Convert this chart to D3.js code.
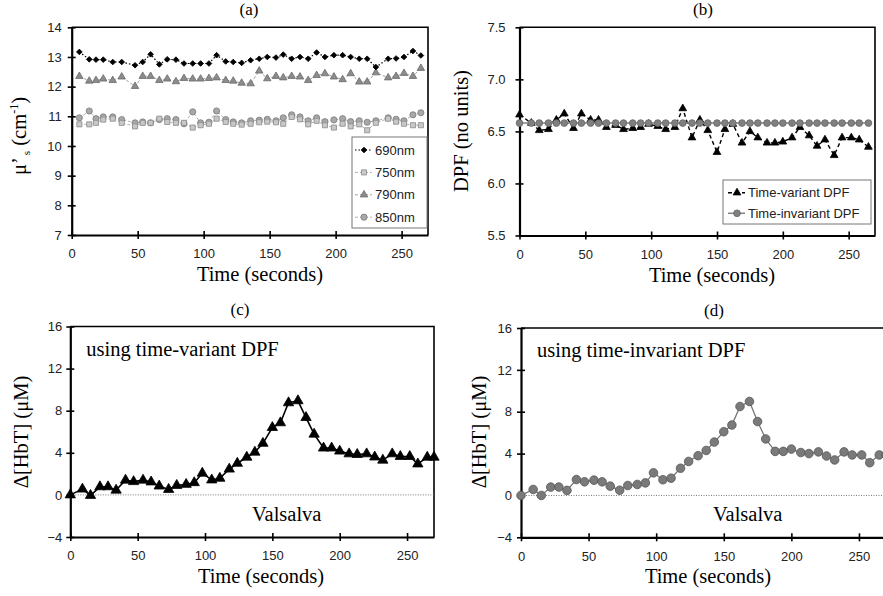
<!DOCTYPE html>
<html>
<head>
<meta charset="utf-8">
<script src="https://cdn.jsdelivr.net/npm/d3@7"></script>
<style>
body { margin: 0; background: #fff; }
</style>
</head>
<body>
<div id="chart"></div>
<script>
// panel (a): reduced scattering coefficient per wavelength
var timeA = [5.8, 13.3, 18.4, 23.9, 31.1, 37.9, 48, 53.8, 59.8, 66.4, 72.4, 79, 85.1, 91.7, 97.7, 104, 109.8, 116.7, 122.4, 128.8,
	135.6, 142.1, 148.2, 154.8, 160.3, 166.7, 173, 179.2, 185.6, 191.9, 198.7, 205.3, 211.4, 217.9, 223.9, 230.5, 239.8, 245.8, 251.8, 258.6, 264.6];
var mu690 = [13.17, 12.92, 12.91, 12.91, 12.83, 12.83, 12.72, 12.83, 13.09, 12.75, 12.92, 12.91, 12.78, 12.78, 12.78, 12.78, 13.06, 12.85, 12.83, 12.8,
	12.89, 12.94, 13.0, 12.98, 13.08, 12.94, 13.0, 12.94, 13.15, 13.0, 13.06, 13.06, 13.0, 12.94, 12.94, 12.66, 12.94, 12.95, 13.0, 13.2, 13.05];
var mu750 = [10.73, 10.73, 10.78, 10.89, 10.92, 10.78, 10.66, 10.78, 10.78, 10.92, 10.81, 10.78, 10.78, 10.62, 10.7, 10.75, 10.92, 10.81, 10.75, 10.72,
	10.75, 10.8, 10.82, 10.8, 10.75, 10.98, 10.9, 10.73, 10.85, 10.7, 10.62, 10.75, 10.66, 10.73, 10.53, 10.78, 10.92, 10.82, 10.75, 10.7, 10.7];
var mu790 = [12.35, 12.19, 12.21, 12.26, 12.21, 12.33, 12.01, 12.35, 12.35, 12.21, 12.26, 12.17, 12.28, 12.26, 12.26, 12.28, 12.3, 12.21, 12.19, 12.12,
	12.1, 12.53, 12.27, 12.35, 12.3, 12.35, 12.33, 12.21, 12.38, 12.44, 12.33, 12.24, 12.44, 12.16, 12.16, 12.47, 12.3, 12.35, 12.45, 12.35, 12.62];
var mu850 = [10.95, 11.18, 10.92, 10.98, 10.98, 10.89, 10.78, 10.81, 10.78, 10.89, 10.92, 10.89, 10.75, 11.15, 10.78, 10.8, 11.18, 10.89, 10.81, 10.78,
	10.85, 10.87, 10.9, 10.85, 10.95, 11.05, 10.98, 10.85, 10.95, 10.82, 10.88, 10.92, 10.82, 10.85, 10.8, 10.85, 10.95, 10.9, 10.85, 11.05, 11.12];

// panels (b)-(d) share the sampling times
var time = [0, 9, 15, 22, 28, 34, 41, 47, 54, 60, 66, 73, 79, 86, 92, 98, 105, 111, 118, 124,
	131, 137, 143, 150, 156, 162, 169, 175, 181, 188, 194, 200, 207, 213, 220, 226, 232, 239, 245, 252, 258, 265, 270];
var dpfVariant = [6.66, 6.58, 6.51, 6.52, 6.61, 6.67, 6.53, 6.67, 6.61, 6.61, 6.54, 6.56, 6.52, 6.53, 6.54, 6.57, 6.55, 6.52, 6.54, 6.72,
	6.44, 6.61, 6.51, 6.3, 6.52, 6.57, 6.39, 6.5, 6.44, 6.39, 6.39, 6.4, 6.44, 6.54, 6.46, 6.36, 6.42, 6.27, 6.44, 6.44, 6.42, 6.35];
var dpfInvariant = [6.58, 6.58, 6.58, 6.58, 6.58, 6.58, 6.58, 6.58, 6.58, 6.58, 6.58, 6.58, 6.58, 6.58, 6.58, 6.58, 6.58, 6.58, 6.58, 6.58,
	6.58, 6.58, 6.58, 6.58, 6.58, 6.58, 6.58, 6.58, 6.58, 6.58, 6.58, 6.58, 6.58, 6.58, 6.58, 6.58, 6.58, 6.58, 6.58, 6.58, 6.58, 6.58];
var hbtVariant = [0, 0.55, -0.05, 0.77, 0.77, 0.45, 1.4, 1.26, 1.4, 1.23, 0.84, 0.52, 0.9, 1.0, 1.16, 2.06, 1.42, 1.58, 2.45, 3.0,
	3.58, 4.06, 4.9, 6.4, 6.85, 8.75, 8.94, 7.35, 5.77, 4.45, 4.45, 4.16, 3.9, 3.84, 3.9, 3.6, 3.3, 3.9, 3.65, 3.65, 2.94, 3.58, 3.58];
var hbtInvariant = [0, 0.57, 0, 0.8, 0.8, 0.48, 1.52, 1.3, 1.46, 1.3, 0.89, 0.5, 0.95, 1.05, 1.2, 2.16, 1.5, 1.65, 2.6, 3.25,
	3.8, 4.3, 5.1, 6.09, 6.73, 8.5, 8.98, 7.06, 5.4, 4.21, 4.21, 4.43, 4.1, 4.0, 4.16, 3.77, 3.39, 4.16, 3.87, 3.87, 3.13, 3.87, 3.9];

var timeTicks = [0, 50, 100, 150, 200, 250];
var muTicks = [7, 8, 9, 10, 11, 12, 13, 14];
var dpfTicks = [5.5, 6.0, 6.5, 7.0, 7.5];
var hbtTicks = [-4, 0, 4, 8, 12, 16];
var muLabels = ["690nm", "750nm", "790nm", "850nm"];
var dpfLabels = ["Time-variant DPF", "Time-invariant DPF"];

var SANS = "'Liberation Sans', Arial, sans-serif";
var SERIF = "'Liberation Serif', 'Times New Roman', serif";

var svg = d3.select("#chart").append("svg")
	.attr("width", 883)
	.attr("height", 596);

function makePanel(o) {
	var x = d3.scaleLinear().domain([0, 270]).range([o.x0, o.x1]);
	var y = d3.scaleLinear().domain(o.yDomain).range([o.y1, o.y0]);
	var g = svg.append("g");

	// top and right frame
	g.append("path")
		.attr("d", "M" + o.x0 + "," + o.y0 + "H" + o.x1 + "V" + o.y1)
		.attr("fill", "none").attr("stroke", "#000").attr("stroke-width", 1.6);

	var ax = g.append("g")
		.attr("transform", "translate(0," + o.y1 + ")")
		.call(d3.axisBottom(x).tickValues(timeTicks).tickSize(4).tickSizeOuter(0).tickPadding(10));
	ax.selectAll(".tick line").attr("y1", -4).attr("y2", 4).attr("stroke-width", 1.6);

	var ay = g.append("g")
		.attr("transform", "translate(" + o.x0 + ",0)")
		.call(d3.axisLeft(y).tickValues(o.yTicks).tickFormat(o.yFormat).tickSize(4).tickSizeOuter(0).tickPadding(o.yPad));
	ay.selectAll(".tick line").attr("x1", 4).attr("x2", -4).attr("stroke-width", 1.6);

	[ax, ay].forEach(function(a) {
		a.select(".domain").attr("stroke-width", 2.2);
		a.selectAll("text").attr("font-family", SANS).attr("font-size", 13).attr("fill", "#222");
	});

	g.append("text")
		.attr("x", o.titleX).attr("y", o.y0 - 12)
		.attr("text-anchor", "middle")
		.attr("font-family", SERIF).attr("font-size", 17)
		.text(o.title);

	g.append("text")
		.attr("x", o.xTitleX).attr("y", o.y1 + 46)
		.attr("text-anchor", "middle")
		.attr("font-family", SERIF).attr("font-size", 20.5)
		.text("Time (seconds)");

	return {x: x, y: y, g: g};
}

function drawSeries(p, xs, ys, st) {
	var pts = d3.zip(xs, ys);
	var line = d3.line().x(d => p.x(d[0])).y(d => p.y(d[1]));
	p.g.append("path")
		.datum(pts)
		.attr("d", line)
		.attr("fill", "none")
		.attr("stroke", st.line)
		.attr("stroke-width", st.lw)
		.attr("stroke-dasharray", st.dash || null);
	var sym = d3.symbol().type(st.shape).size(st.size);
	p.g.append("g").selectAll("path")
		.data(pts)
		.join("path")
		.attr("d", sym)
		.attr("transform", d => "translate(" + p.x(d[0]) + "," + p.y(d[1]) + ")" + (st.rot ? " rotate(45)" : ""))
		.attr("fill", st.fill)
		.attr("stroke", st.stroke)
		.attr("stroke-width", 0.8);
}

function legendItem(g, x, y, st, label) {
	g.append("line")
		.attr("x1", x).attr("x2", x + 17).attr("y1", y).attr("y2", y)
		.attr("stroke", st.line).attr("stroke-width", st.lw)
		.attr("stroke-dasharray", st.dash || null);
	g.append("path")
		.attr("d", d3.symbol().type(st.shape).size(st.size)())
		.attr("transform", "translate(" + (x + 9) + "," + y + ")" + (st.rot ? " rotate(45)" : ""))
		.attr("fill", st.fill).attr("stroke", st.stroke).attr("stroke-width", 0.8);
	g.append("text")
		.attr("x", x + 20).attr("y", y + 4.5)
		.attr("font-family", SANS).attr("font-size", 13).attr("fill", "#222")
		.text(label);
}

// ---------- (a) ----------
var pa = makePanel({x0: 71.7, x1: 428, y0: 27.3, y1: 235, yDomain: [7, 14], yTicks: muTicks,
	yFormat: d3.format("d"), yPad: 6, title: "(a)", titleX: 249, xTitleX: 260});
var stA = [
	{shape: d3.symbolSquare, size: 16, rot: true, fill: "#000", stroke: "#000", line: "#000", lw: 1.2, dash: "1.5,2"},
	{shape: d3.symbolSquare, size: 26, fill: "#c8c8c8", stroke: "#8a8a8a", line: "#b0b0b0", lw: 1, dash: "3,2"},
	{shape: d3.symbolTriangle, size: 24, fill: "#8c8c8c", stroke: "#6a6a6a", line: "#a0a0a0", lw: 1, dash: "3,2"},
	{shape: d3.symbolCircle, size: 30, fill: "#a8a8a8", stroke: "#7a7a7a", line: "#b0b0b0", lw: 1, dash: "3,2"}
];
drawSeries(pa, timeA, mu850, stA[3]);
drawSeries(pa, timeA, mu750, stA[1]);
drawSeries(pa, timeA, mu790, stA[2]);
drawSeries(pa, timeA, mu690, stA[0]);

pa.g.append("rect")
	.attr("x", 352).attr("y", 137).attr("width", 75).attr("height", 91)
	.attr("fill", "#fff").attr("stroke", "#777").attr("stroke-width", 1);
muLabels.forEach(function(l, i) { legendItem(pa.g, 355, 150 + i * 22.4, stA[i], l); });

var ta = pa.g.append("text")
	.attr("transform", "translate(26,136) rotate(-90)")
	.attr("text-anchor", "middle")
	.attr("font-family", SERIF).attr("font-size", 20.5);
ta.append("tspan").text("\u03bc\u2019");
ta.append("tspan").attr("font-size", 11).attr("dy", 4).attr("dx", 2).text("s");
ta.append("tspan").attr("dy", -4).text(" (cm");
ta.append("tspan").attr("font-size", 12).attr("dy", -8).text("-1");
ta.append("tspan").attr("dy", 8).text(")");

// ---------- (b) ----------
var pb = makePanel({x0: 519.5, x1: 875, y0: 27.3, y1: 235.5, yDomain: [5.5, 7.5], yTicks: dpfTicks,
	yFormat: d3.format(".1f"), yPad: 10, title: "(b)", titleX: 703, xTitleX: 712});
var stB = [
	{shape: d3.symbolTriangle, size: 26, fill: "#000", stroke: "#000", line: "#000", lw: 1.4, dash: "4,3"},
	{shape: d3.symbolCircle, size: 36, fill: "#808080", stroke: "#666", line: "#808080", lw: 1.5}
];
drawSeries(pb, time, dpfVariant, stB[0]);
drawSeries(pb, time, dpfInvariant, stB[1]);

pb.g.append("rect")
	.attr("x", 723).attr("y", 180).attr("width", 148).attr("height", 44)
	.attr("fill", "#fff").attr("stroke", "#777").attr("stroke-width", 1);
dpfLabels.forEach(function(l, i) { legendItem(pb.g, 728, 192.7 + i * 20.6, stB[i], l); });

pb.g.append("text")
	.attr("transform", "translate(468,131) rotate(-90)")
	.attr("text-anchor", "middle")
	.attr("font-family", SERIF).attr("font-size", 20.5)
	.text("DPF (no units)");

// ---------- (c) and (d) ----------
function hbtPanel(o, values, st, note) {
	var p = makePanel(o);
	p.g.append("line")
		.attr("x1", o.x0).attr("x2", o.x1).attr("y1", p.y(0)).attr("y2", p.y(0))
		.attr("stroke", "#777").attr("stroke-width", 1).attr("stroke-dasharray", "1,1.5");
	drawSeries(p, time, values, st);
	p.g.append("text")
		.attr("x", o.x0 + 16).attr("y", o.y0 + 29)
		.attr("font-family", SERIF).attr("font-size", 20.5)
		.text(note);
	p.g.append("text")
		.attr("x", o.valsalvaX).attr("y", 521)
		.attr("font-family", SERIF).attr("font-size", 20.5)
		.text("Valsalva");
	var t = p.g.append("text")
		.attr("transform", "translate(" + o.yTitleX + ",432) rotate(-90)")
		.attr("text-anchor", "middle")
		.attr("font-family", SERIF).attr("font-size", 20.5);
	t.append("tspan").text("\u0394[HbT] (\u03bcM)");
	return p;
}

hbtPanel({x0: 70.3, x1: 434, y0: 326.5, y1: 537, yDomain: [-4, 16], yTicks: hbtTicks,
	yFormat: d3.format("d"), yPad: 4, title: "(c)", titleX: 240, xTitleX: 261, valsalvaX: 252, yTitleX: 28},
	hbtVariant,
	{shape: d3.symbolTriangle, size: 46, fill: "#000", stroke: "#000", line: "#000", lw: 1.6},
	"using time-variant DPF");

hbtPanel({x0: 521, x1: 886, y0: 328, y1: 537.3, yDomain: [-4, 16], yTicks: hbtTicks,
	yFormat: d3.format("d"), yPad: 5, title: "(d)", titleX: 714, xTitleX: 708, valsalvaX: 713, yTitleX: 486},
	hbtInvariant,
	{shape: d3.symbolCircle, size: 58, fill: "#7a7a7a", stroke: "#555", line: "#777", lw: 1.3},
	"using time-invariant DPF");
</script>
</body>
</html>
